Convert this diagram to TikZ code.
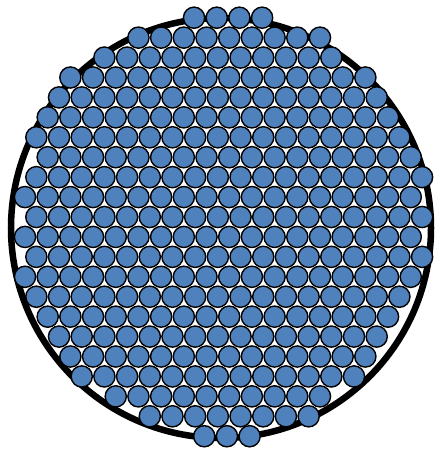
\documentclass[tikz,border=0pt]{standalone}
\definecolor{fibreblue}{RGB}{79,129,189}
\begin{document}
\begin{tikzpicture}[x=1pt,y=-1pt,fibre/.style={draw=black,line width=1.4pt,fill=fibreblue}]
\useasboundingbox (0,0) rectangle (439,452);
\draw[line width=6.5pt] (221,228) circle[radius=210pt];
\foreach \row/\first/\n in {1/7.45/4,2/5/9,3/3.5/11,4/2/14,5/1.5/15,6/1/16,7/0.5/17,8/1/17,9/0.5/18,10/0/18,11/0.5/18,12/0/18,13/0.5/18,14/0/18,15/0.5/17,16/1/16,17/1.5/15,18/2/14,19/2.5/13,20/4/10,21/5.5/8,22/7.9/3}
  \foreach \k in {1,...,\n}
    \draw[fibre] ({25+(\first+\k-1)*22.69},{17.7+(\row-1)*19.93}) circle[radius=10.6pt];
\end{tikzpicture}
\end{document}
